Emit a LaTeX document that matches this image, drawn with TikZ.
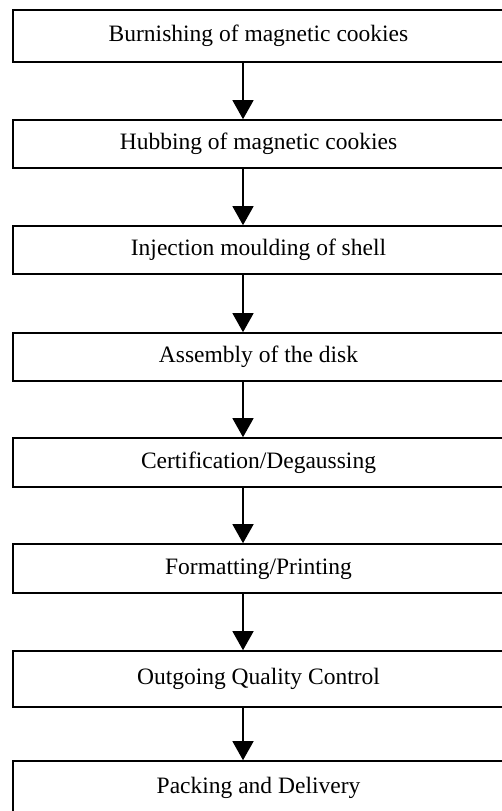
\documentclass[tikz,border=0pt]{standalone}
\usepackage{fontspec}
\setmainfont{Liberation Serif}
\usetikzlibrary{arrows.meta}
\begin{document}
\begin{tikzpicture}[x=1pt,y=-1pt,
  stepbox/.style={draw, line width=1.6pt, minimum width=491pt, inner sep=0pt,
    font=\fontsize{23.5}{28}\selectfont, text height=16pt, text depth=5pt},
  arr/.style={line width=1.3pt, -{Triangle[width=21pt,length=19pt]}}]
\useasboundingbox (0,0) rectangle (502,811);
\begin{scope}
\clip (0,0) rectangle (502,811);
\node[stepbox, minimum height=52pt] (b1) at (258.5,36) {Burnishing of magnetic cookies};
\node[stepbox, minimum height=48pt] (b2) at (258.5,144) {Hubbing of magnetic cookies};
\node[stepbox, minimum height=48pt] (b3) at (258.5,250) {Injection moulding of shell};
\node[stepbox, minimum height=48pt] (b4) at (258.5,357) {Assembly of the disk};
\node[stepbox, minimum height=49pt] (b5) at (258.5,462.5) {Certification/Degaussing};
\node[stepbox, minimum height=49pt] (b6) at (258.5,568.5) {Formatting/Printing};
\node[stepbox, minimum height=56pt] (b7) at (258.5,679) {Outgoing Quality Control};
\node[stepbox, minimum height=54pt] (b8) at (258.5,788) {Packing and Delivery};
\end{scope}
\coordinate (ax) at (243,0);
\draw[arr] (b1.south -| ax) -- (b2.north -| ax);
\draw[arr] (b2.south -| ax) -- (b3.north -| ax);
\draw[arr] (b3.south -| ax) -- (b4.north -| ax);
\draw[arr] (b4.south -| ax) -- (b5.north -| ax);
\draw[arr] (b5.south -| ax) -- (b6.north -| ax);
\draw[arr] (b6.south -| ax) -- (b7.north -| ax);
\draw[arr] (b7.south -| ax) -- (b8.north -| ax);
\end{tikzpicture}
\end{document}
